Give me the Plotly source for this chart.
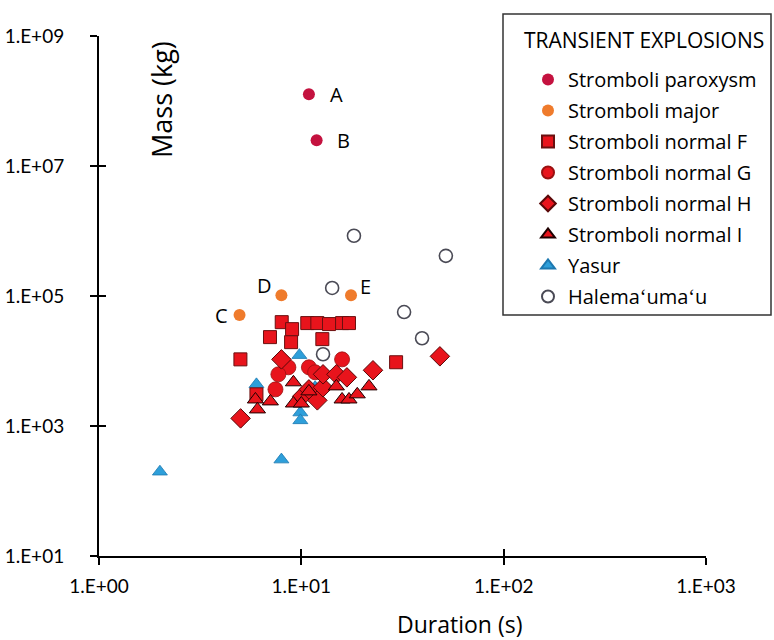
import numpy as np
import plotly.graph_objects as go

# ---------------- data ----------------
parox_dur = [10.9, 11.9]
parox_mass = [1.27e8, 2.48e7]
parox_lbl = ["A", "B"]

major_dur = [4.95, 7.97, 17.6]
major_mass = [5.1e4, 1.03e5, 1.03e5]
major_lbl = ["C", "D", "E"]

F_dur = [5.0, 6.0, 7.0, 8.0, 8.9, 9.0, 10.7, 12.0, 13.7, 15.9, 17.2, 12.7, 29.4]
F_mass = [1.06e4, 3.07e3, 2.33e4, 3.96e4, 1.95e4, 3.09e4, 3.83e4, 3.83e4, 3.7e4, 3.83e4, 3.83e4, 2.17e4, 9.57e3]

G_dur = [8.63, 7.7, 7.45, 10.9, 15.9, 11.7]
G_mass = [8.0e3, 6.24e3, 3.66e3, 8.0e3, 1.06e4, 6.7e3]

H_dur = [5.01, 7.97, 10.1, 10.9, 12.0, 12.8, 12.8, 14.9, 16.8, 22.6, 48.4]
H_mass = [1.31e3, 1.06e4, 2.86e3, 3.66e3, 2.48e3, 3.94e3, 6.24e3, 6.24e3, 5.6e3, 7.2e3, 1.18e4]

I_dur = [5.93, 6.07, 7.03, 9.14, 9.14, 10.0, 10.9, 14.9, 15.9, 17.2, 18.9, 21.6]
I_mass = [2.56e3, 1.8e3, 2.39e3, 4.7e3, 2.22e3, 2.22e3, 3.41e3, 4.07e3, 2.56e3, 2.56e3, 3.07e3, 4.07e3]

yasur_dur = [2.0, 7.97, 9.78, 6.0, 9.89, 9.89, 9.89, 11.7]
yasur_mass = [198, 304, 1.23e4, 4.37e3, 2.22e3, 1.61e3, 1.22e3, 3.94e3]

hale_dur = [18.2, 51.8, 14.2, 32.2, 39.5, 12.8]
hale_mass = [8.45e5, 4.15e5, 1.33e5, 5.66e4, 2.24e4, 1.27e4]

x_tickvals = [1, 10, 100, 1000]
x_ticktext = ["1.E+00", "1.E+01", "1.E+02", "1.E+03"]
y_tickvals = [1e1, 1e3, 1e5, 1e7, 1e9]
y_ticktext = ["1.E+01", "1.E+03", "1.E+05", "1.E+07", "1.E+09"]

FONT = "Open Sans"
TICKFONT = "Lato"

fig = go.Figure()

def add(name, xs, ys, symbol, color, size, lcolor, lwidth, rank):
    fig.add_trace(go.Scatter(
        x=xs, y=ys, mode="markers", name=name,
        legendgroup=name, legendrank=rank,
        marker=dict(symbol=symbol, color=color, size=size,
                    line=dict(color=lcolor, width=lwidth)),
    ))

# draw order (Yasur behind), legend order via legendrank
add("Yasur", yasur_dur, yasur_mass, "triangle-up", "#2E9FDA", 13, "#1D78B0", 0.8, 7)
add("Halema\u02bbuma\u02bbu", hale_dur, hale_mass, "circle", "white", 13, "#4a4a55", 1.6, 8)
add("Stromboli normal F", F_dur, F_mass, "square", "#E8141C", 13, "#6a1010", 1, 3)
add("Stromboli normal G", G_dur, G_mass, "circle", "#E8141C", 15, "#9a1010", 0.8, 4)
add("Stromboli normal H", H_dur, H_mass, "diamond", "#E8141C", 15, "#5a0808", 1, 5)
add("Stromboli normal I", I_dur, I_mass, "triangle-up", "#E8141C", 14, "#200000", 1, 6)
add("Stromboli major", major_dur, major_mass, "circle", "#EF7B2C", 12, "#EF7B2C", 0, 2)
add("Stromboli paroxysm", parox_dur, parox_mass, "circle", "#C4123F", 12, "#C4123F", 0, 1)

# empty helper trace for the inner half of crossing ticks
fig.add_trace(go.Scatter(x=[], y=[], xaxis="x2", yaxis="y2", showlegend=False,
                         hoverinfo="skip"))

# point labels
shifts = {"A": (28, 0), "B": (27, 0), "C": (-18, 0), "D": (-17, 10), "E": (14, 9)}
for xs, ys, lbls in [(parox_dur, parox_mass, parox_lbl), (major_dur, major_mass, major_lbl)]:
    for xv, yv, lb in zip(xs, ys, lbls):
        dx, dy = shifts[lb]
        fig.add_annotation(x=np.log10(xv), y=np.log10(yv), text=lb, showarrow=False,
                           xanchor="center", yanchor="middle",
                           xshift=dx, yshift=dy, font=dict(family=FONT, size=20, color="black"))

# axis titles
fig.add_annotation(xref="paper", yref="paper", x=(161 - 99) / 607, y=(556 - 100) / 520,
                   xanchor="center", yanchor="middle", text="Mass (kg)",
                   textangle=-90, showarrow=False, font=dict(family=FONT, size=27, color="black"))
fig.add_annotation(xref="paper", yref="paper", x=(459 - 99) / 607, y=(556 - 624) / 520,
                   xanchor="center", yanchor="middle", text="Duration (s)",
                   showarrow=False, font=dict(family=FONT, size=23, color="black"))

# legend title and frame
fig.add_annotation(xref="paper", yref="paper", x=(522 - 99) / 607, y=(556 - 40) / 520,
                   xanchor="left", yanchor="middle", text="TRANSIENT EXPLOSIONS",
                   showarrow=False, font=dict(family=FONT, size=21, color="black"))
fig.add_shape(type="rect", xref="paper", yref="paper",
              x0=(503 - 99) / 607, x1=(771 - 99) / 607,
              y0=(556 - 315) / 520, y1=(556 - 14) / 520,
              line=dict(color="#333333", width=1.5), fillcolor="rgba(0,0,0,0)", layer="above")

axis_common = dict(showgrid=False, zeroline=False, tickcolor="black", tickwidth=1.5,
                   ticklen=7, automargin=False)

fig.update_layout(
    width=774, height=640,
    margin=dict(l=99, r=68, t=36, b=84, autoexpand=False),
    paper_bgcolor="white", plot_bgcolor="white",
    font=dict(family=FONT, color="black"),
    xaxis=dict(type="log", range=[0, 3], tickvals=x_tickvals, ticktext=x_ticktext,
               ticks="outside", showline=True, linecolor="black", linewidth=2,
               tickfont=dict(family=TICKFONT, size=19), ticklabelstandoff=5, **axis_common),
    yaxis=dict(type="log", range=[1, 9], tickvals=y_tickvals, ticktext=y_ticktext,
               ticks="outside", showline=True, linecolor="black", linewidth=2,
               tickfont=dict(family=TICKFONT, size=19), ticklabelstandoff=22, **axis_common),
    xaxis2=dict(type="log", range=[0, 3], tickvals=x_tickvals, ticks="inside",
                showticklabels=False, showline=False, overlaying="x", anchor="y2",
                **axis_common),
    yaxis2=dict(type="log", range=[1, 9], tickvals=y_tickvals, ticks="inside",
                showticklabels=False, showline=False, overlaying="y", anchor="x2",
                side="left", **axis_common),
    legend=dict(
        x=(508 - 99) / 607, y=(556 - 60) / 520, xanchor="left", yanchor="top",
        borderwidth=0, bgcolor="rgba(255,255,255,0)",
        font=dict(family=FONT, size=20, color="black"),
        traceorder="grouped", tracegroupgap=2, indentation=20, itemsizing="constant",
    ),
    showlegend=True,
)

fig.write_html("out.html")
